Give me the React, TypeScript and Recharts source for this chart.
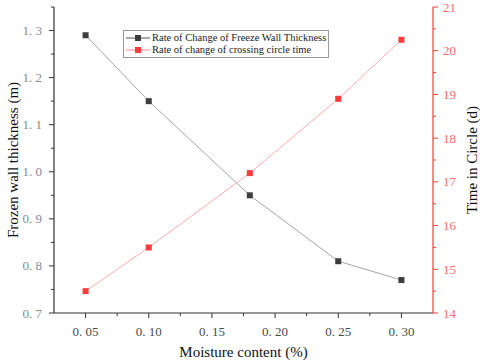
import React from 'react';
import { LineChart, Line, XAxis, YAxis, Legend } from 'recharts';

// values
const moisture = [0.05, 0.1, 0.18, 0.25, 0.3];
const wallThickness = [1.29, 1.15, 0.95, 0.81, 0.77];
const circleTime = [14.5, 15.5, 17.2, 18.9, 20.25];

const xMajor = [0.05, 0.1, 0.15, 0.2, 0.25, 0.3];
const xMinor = [0.075, 0.125, 0.175, 0.225, 0.275];
const leftMajor = [0.7, 0.8, 0.9, 1.0, 1.1, 1.2, 1.3];
const leftMinor = [0.75, 0.85, 0.95, 1.05, 1.15, 1.25, 1.35];
const rightMajor = [14, 15, 16, 17, 18, 19, 20, 21];
const rightMinor = [14.5, 15.5, 16.5, 17.5, 18.5, 19.5, 20.5];

const seriesNames = ['Rate of Change of Freeze Wall Thickness', 'Rate of change of crossing circle time'];

const FONT = '"Liberation Serif", "Times New Roman", serif';
const BLACK = '#3d3d3d';
const RED = '#ff3b3b';

const data = moisture.map((m, i) => ({ m, wall: wallThickness[i], time: circleTime[i] }));

const isMajor = (list: number[], v: number) => list.some((t) => Math.abs(t - v) < 1e-9);
const spaced = (v: number, d: number) => v.toFixed(d).replace('.', '. ');

function XTick({ x, y, payload }: any) {
  const major = isMajor(xMajor, payload.value);
  return (
    <g>
      <line x1={x} x2={x} y1={y} y2={y + (major ? 5 : 3)} stroke="#333" />
      {major && (
        <text x={x} y={y + 23} textAnchor="middle" fontSize={13} fill="#4a4a4a" fontFamily={FONT}>
          {spaced(payload.value, 2)}
        </text>
      )}
    </g>
  );
}

function LeftTick({ x, y, payload }: any) {
  const major = isMajor(leftMajor, payload.value);
  return (
    <g>
      <line x1={x} x2={x - (major ? 5 : 3)} y1={y} y2={y} stroke="#333" />
      {major && (
        <text x={x - 12} y={y + 4.5} textAnchor="end" fontSize={13} fill="#8a8a8a" fontFamily={FONT}>
          {spaced(payload.value, 1)}
        </text>
      )}
    </g>
  );
}

function RightTick({ x, y, payload }: any) {
  const major = isMajor(rightMajor, payload.value);
  return (
    <g>
      <line x1={x} x2={x + (major ? 5 : 3)} y1={y} y2={y} stroke={RED} />
      {major && (
        <text x={x + 10} y={y + 4.5} textAnchor="start" fontSize={13} fill="#ff6a6a" fontFamily={FONT}>
          {payload.value}
        </text>
      )}
    </g>
  );
}

function squareDot(fill: string) {
  return (props: any) => (
    <rect key={props.index} x={props.cx - 3} y={props.cy - 3} width={6} height={6} fill={fill} />
  );
}

function LegendBox() {
  const rows = [
    { name: seriesNames[0], line: '#555', fill: BLACK },
    { name: seriesNames[1], line: '#ff8a8a', fill: RED },
  ];
  return (
    <div style={{ border: '1px solid #999', background: '#fff', padding: '1px 2px', fontFamily: FONT, fontSize: 10.5, lineHeight: '12px' }}>
      {rows.map((r) => (
        <div key={r.name} style={{ display: 'flex', alignItems: 'center', whiteSpace: 'nowrap' }}>
          <svg width={24} height={12}>
            <line x1={0} x2={24} y1={6} y2={6} stroke={r.line} />
            <rect x={9} y={3} width={6} height={6} fill={r.fill} />
          </svg>
          <span style={{ marginLeft: 2, color: '#222' }}>{r.name}</span>
        </div>
      ))}
    </div>
  );
}

export default function App() {
  return (
    <div style={{ position: 'absolute', left: 0, top: 0, background: '#fff' }}>
      <LineChart width={480} height={363} data={data} margin={{ top: 7, right: 0, bottom: 0, left: 0 }}>
        <XAxis
          dataKey="m"
          type="number"
          domain={[0.025, 0.325]}
          ticks={[...xMajor, ...xMinor].sort((a, b) => a - b)}
          interval={0}
          tickSize={0}
          tickMargin={0}
          tickLine={false}
          tick={<XTick />}
          axisLine={{ stroke: '#333', strokeWidth: 1.2 }}
          height={50}
          label={(p: any) => (
            <text x={243.5} y={357} textAnchor="middle" fontSize={15} fill="#111" fontFamily={FONT}>
              Moisture content (%)
            </text>
          )}
        />
        <YAxis
          yAxisId="left"
          type="number"
          domain={[0.7, 1.35]}
          ticks={[...leftMajor, ...leftMinor].sort((a, b) => a - b)}
          interval={0}
          tickSize={0}
          tickMargin={0}
          tickLine={false}
          tick={<LeftTick />}
          axisLine={{ stroke: '#333', strokeWidth: 1.2 }}
          width={54}
          label={(p: any) => (
            <text x={18} y={160} transform="rotate(-90 18 160)" textAnchor="middle" fontSize={15} fill="#111" fontFamily={FONT}>
              Frozen wall thickness (m)
            </text>
          )}
        />
        <YAxis
          yAxisId="right"
          orientation="right"
          type="number"
          domain={[14, 21]}
          ticks={[...rightMajor, ...rightMinor].sort((a, b) => a - b)}
          interval={0}
          tickSize={0}
          tickMargin={0}
          tickLine={false}
          tick={<RightTick />}
          axisLine={{ stroke: RED, strokeWidth: 1.2 }}
          width={47}
          label={(p: any) => (
            <text x={477} y={160} transform="rotate(-90 477 160)" textAnchor="middle" fontSize={15} fill="#111" fontFamily={FONT}>
              Time in Circle (d)
            </text>
          )}
        />
        <Legend
          layout="horizontal"
          verticalAlign="middle"
          align="center"
          content={<LegendBox />}
          wrapperStyle={{ left: 123, top: 30, width: 'auto', height: 'auto' }}
        />
        <Line
          yAxisId="left"
          dataKey="wall"
          stroke="#a5a5a5"
          strokeWidth={1}
          dot={squareDot(BLACK)}
          activeDot={false}
          isAnimationActive={false}
        />
        <Line
          yAxisId="right"
          dataKey="time"
          stroke="#ffabab"
          strokeWidth={1}
          dot={squareDot(RED)}
          activeDot={false}
          isAnimationActive={false}
        />
      </LineChart>
    </div>
  );
}
